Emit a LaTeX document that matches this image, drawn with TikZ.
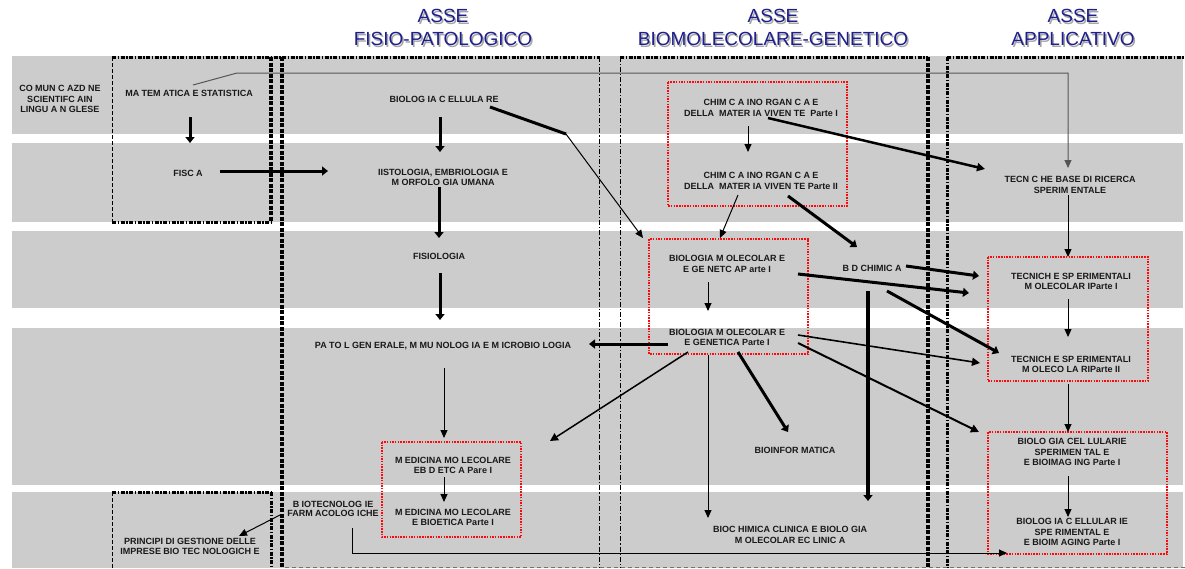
\documentclass[tikz,border=0pt]{standalone}
\usepackage{fontspec}
\setmainfont{Liberation Sans}
\usetikzlibrary{arrows.meta}
\definecolor{bandgray}{RGB}{204,204,204}
\definecolor{hdrblue}{RGB}{30,30,140}
\definecolor{txt}{RGB}{25,25,25}
\definecolor{boxred}{RGB}{250,10,10}
\definecolor{linegray}{RGB}{85,85,85}
\begin{document}
\begin{tikzpicture}[x=1pt,y=-1pt,
  lbl/.style={font=\bfseries\fontsize{9}{10.5}\selectfont, text=txt, align=center, inner sep=0pt},
  hdr/.style={font=\fontsize{19}{22}\selectfont, text=hdrblue, inner sep=0pt},
  hdrsh/.style={font=\fontsize{19}{22}\selectfont, text=black!35, inner sep=0pt},
  redbox/.style={draw=boxred, line width=1.3pt, dash pattern=on 1.5pt off 1.2pt},
  thinar/.style={draw=black, line width=1pt, -{Triangle[length=8pt,width=7pt]}},
  thickar/.style={draw=black, line width=3pt, -{Triangle[length=6pt,width=9pt]}},
  midar/.style={draw=black, line width=2pt, -{Triangle[length=8pt,width=8pt]}},
  thickdash/.style={draw=black, line width=3.5pt, dash pattern=on 4pt off 1.5pt},
  thickdd/.style={draw=black, line width=3pt, dash pattern=on 4pt off 1.5pt on 1.5pt off 1.5pt},
  thindd/.style={draw=black, line width=0.8pt, dash pattern=on 5pt off 2pt on 1.2pt off 2pt},
  thindash/.style={draw=black, line width=0.9pt, dash pattern=on 4pt off 2pt},
]
\useasboundingbox (0,0) rectangle (1185,568);
\fill[white] (0,0) rectangle (1185,568);

% bands
\fill[bandgray] (12,56) rectangle (1183,134);
\fill[bandgray] (12,143) rectangle (1183,222);
\fill[bandgray] (12,231) rectangle (1183,308);
\fill[bandgray] (12,328) rectangle (1183,485);
\fill[bandgray] (12,492) rectangle (1183,568);

% headers
\foreach \x/\t in {443/FISIO-PATOLOGICO, 773/BIOMOLECOLARE-GENETICO, 1073/APPLICATIVO}{
  \node[hdrsh] at (\x+1.5,17.5) {ASSE};
  \node[hdrsh] at (\x+1.5,40.5) {\t};
}
\node[hdr] (h1a) at (443,16) {ASSE};
\node[hdr] (h1b) at (443,39) {FISIO-PATOLOGICO};
\node[hdr] (h2a) at (773,16) {ASSE};
\node[hdr] (h2b) at (773,39) {BIOMOLECOLARE-GENETICO};
\node[hdr] (h3a) at (1073,16) {ASSE};
\node[hdr] (h3b) at (1073,39) {APPLICATIVO};

% column frames
\draw[thickdd] (112,57) -- (600,57);
\draw[thickdd] (620,57) -- (928,57);
\draw[thickdd] (947,57) -- (1185,57);
\draw[thindash] (112,57) -- (112,222);
\draw[thickdd] (112,222) -- (271,222);
\draw[thickdash] (271,57) -- (271,222);
\draw[thickdash] (282,57) -- (282,568);
\draw[thindd] (599,57) -- (599,568);
\draw[thindd] (620,57) -- (620,568);
\draw[thickdash] (928,57) -- (928,568);
\draw[thickdd] (947,57) -- (947,568);
\draw[thindash] (112,492) -- (112,568);
\draw[thickdd] (112,492) -- (271,492);
\draw[thickdd] (271,492) -- (271,568);
\draw[draw=black!55, line width=0.8pt, dash pattern=on 4pt off 3pt] (285,567) -- (1185,567);

% red boxes
\draw[redbox] (668,82) rectangle (847,206);
\draw[redbox] (649,239) rectangle (808,354);
\draw[redbox] (988,257) rectangle (1148,381);
\draw[redbox] (382,442) rectangle (521,537);
\draw[redbox] (988,432) rectangle (1167,554);

% nodes
\node[lbl] (com) at (60,99) {CO MUN C AZD NE\\SCIENTIFC AIN\\LINGU A N GLESE};
\node[lbl] (mat) at (189,93) {MA TEM ATICA E STATISTICA};
\node[lbl] (fis) at (188,173) {FISC A};
\node[lbl] (bcel) at (444,99) {BIOLOG IA C ELLULA RE};
\node[lbl] (ist) at (443,177.5) {IISTOLOGIA, EMBRIOLOGIA E\\M ORFOLO GIA UMANA};
\node[lbl] (fisio) at (439,256) {FISIOLOGIA};
\node[lbl] (pat) at (443,346) {PA TO L GEN ERALE, M MU NOLOG IA E M ICROBIO LOGIA};
\node[lbl] (chi1) at (761,108) {CHIM C A INO RGAN C A E\\DELLA\ \ MATER IA VIVEN TE\ \ Parte I};
\node[lbl] (chi2) at (761,181) {CHIM C A INO RGAN C A E\\DELLA\ \ MATER IA VIVEN TE Parte II};
\node[lbl] (bm1) at (727,264) {BIOLOGIA M OLECOLAR E\\E GE NETC AP arte I};
\node[lbl] (bioch) at (872,268) {B D CHIMIC A};
\node[lbl] (bm2) at (727,337.5) {BIOLOGIA M OLECOLAR E\\E GENETICA Parte I};
\node[lbl] (tbase) at (1070,185) {TECN C HE BASE DI RICERCA\\SPERIM ENTALE};
\node[lbl] (tm1) at (1071,281.5) {TECNICH E SP ERIMENTALI\\M OLECOLAR IParte I};
\node[lbl] (tm2) at (1071,364.5) {TECNICH E SP ERIMENTALI\\M OLECO LA RIParte II};
\node[lbl] (med1) at (453,465.5) {M EDICINA MO LECOLARE\\EB D ETC A Pare I};
\node[lbl] (med2) at (453,517.5) {M EDICINA MO LECOLARE\\E BIOETICA Parte I};
\node[lbl] (binf) at (795,450) {BIOINFOR MATICA};
\node[lbl] (bcli) at (790,535) {BIOC HIMICA CLINICA E BIOLO GIA\\M OLECOLAR EC LINIC A};
\node[lbl] (bcs1) at (1072,452) {BIOLO GIA CEL LULARIE\\SPERIMEN TAL E\\E BIOIMAG ING Parte I};
\node[lbl] (bcs2) at (1072,532) {BIOLOG IA C ELLULAR IE\\SPE RIMENTAL E\\E BIOIM AGING Parte I};
\node[lbl, font=\bfseries\fontsize{9}{8.5}\selectfont] (btf) at (333,509) {B IOTECNOLOG IE\\FARM ACOLOG ICHE};
\node[lbl] (pri) at (190,546.5) {PRINCIPI DI GESTIONE DELLE\\IMPRESE BIO TEC NOLOGICH E};

% connector coordinates
\coordinate (matO) at (193,85);
\coordinate (matK) at (237,73);
\coordinate (tbK) at (1068,73);
\coordinate (tbI) at (1068,168);
\coordinate (matS) at (190,117);
\coordinate (fisN) at (190,143);
\coordinate (fisE) at (220,171);
\coordinate (istW) at (328,171);
\coordinate (bcelS) at (440,117);
\coordinate (istN) at (440,152);
\coordinate (bcelE) at (490,107);
\coordinate (bcelK) at (566,134);
\coordinate (bm1NW) at (643,238);
\coordinate (istS) at (439,187);
\coordinate (fisioN) at (439,238);
\coordinate (fisioS) at (440,273);
\coordinate (patN) at (440,320);
\coordinate (chi1S) at (748,126);
\coordinate (chi2N) at (748,152);
\coordinate (chi1E) at (768,118);
\coordinate (tbW) at (985,169);
\coordinate (chi2S) at (738,195);
\coordinate (bm1N) at (720,238);
\coordinate (chi2SE) at (788,196);
\coordinate (biochN) at (857,247);
\coordinate (bm1S) at (708,282);
\coordinate (bm2N) at (708,311);
\coordinate (biochE) at (906,266);
\coordinate (tm1Wa) at (979,276);
\coordinate (bm1E) at (798,274);
\coordinate (tm1Wb) at (969,293);
\coordinate (biochSE) at (887,291);
\coordinate (tm2NW) at (999,353);
\coordinate (biochS) at (868,291);
\coordinate (bcliN) at (868,501);
\coordinate (bm2W) at (668,344);
\coordinate (patE) at (589,344);
\coordinate (bm2E) at (798,335);
\coordinate (tm2W) at (980,363);
\coordinate (bm2SE) at (798,343);
\coordinate (bcs1NW) at (979,432);
\coordinate (bm2SW) at (688,352);
\coordinate (med1NE) at (550,441);
\coordinate (bm2S) at (708,355);
\coordinate (bcliNW) at (708,518);
\coordinate (bm2SS) at (738,352);
\coordinate (binfN) at (788,432);
\coordinate (patS) at (444,368);
\coordinate (med1N) at (444,438);
\coordinate (med1S) at (444,477);
\coordinate (med2N) at (444,502);
\coordinate (tbS) at (1068,195);
\coordinate (tm1N) at (1068,257);
\coordinate (tm1S) at (1068,299);
\coordinate (tm2N) at (1068,337);
\coordinate (tm2S) at (1068,384);
\coordinate (bcs1N) at (1068,432);
\coordinate (bcs1S) at (1068,476);
\coordinate (bcs2N) at (1068,517);
\coordinate (btfS) at (352,528);
\coordinate (btfK) at (352,553);
\coordinate (bcs2W) at (1007,553);
\coordinate (btfW) at (280,515);
\coordinate (priN) at (239,536);

% connectors
\draw[draw=linegray, line width=1pt, -{Triangle[length=8pt,width=7pt]}] (matO) -- (matK) -- (tbK) -- (tbI);
\draw[thickar] (matS) -- (fisN);
\draw[thickar] (fisE) -- (istW);
\draw[thickar] (bcelS) -- (istN);
\draw[line width=3pt] (bcelE) -- (bcelK);
\draw[thinar] (bcelK) -- (bm1NW);
\draw[thickar] (istS) -- (fisioN);
\draw[thickar] (fisioS) -- (patN);
\draw[thinar] (chi1S) -- (chi2N);
\draw[midar, line width=2.5pt] (chi1E) -- (tbW);
\draw[thinar] (chi2S) -- (bm1N);
\draw[thickar] (chi2SE) -- (biochN);
\draw[thinar] (bm1S) -- (bm2N);
\draw[thickar] (biochE) -- (tm1Wa);
\draw[thickar] (bm1E) -- (tm1Wb);
\draw[thickar] (biochSE) -- (tm2NW);
\draw[thickar, line width=3.5pt] (biochS) -- (bcliN);
\draw[thickar] (bm2W) -- (patE);
\draw[midar, line width=1.6pt] (bm2E) -- (tm2W);
\draw[midar] (bm2SE) -- (bcs1NW);
\draw[midar, line width=1.5pt] (bm2SW) -- (med1NE);
\draw[thinar] (bm2S) -- (bcliNW);
\draw[thickar] (bm2SS) -- (binfN);
\draw[thinar] (patS) -- (med1N);
\draw[thinar] (med1S) -- (med2N);
\draw[thinar] (tbS) -- (tm1N);
\draw[thinar] (tm1S) -- (tm2N);
\draw[thinar] (tm2S) -- (bcs1N);
\draw[thinar] (bcs1S) -- (bcs2N);
\draw[thinar] (btfS) -- (btfK) -- (bcs2W);
\draw[thinar] (btfW) -- (priN);
\end{tikzpicture}
\end{document}
